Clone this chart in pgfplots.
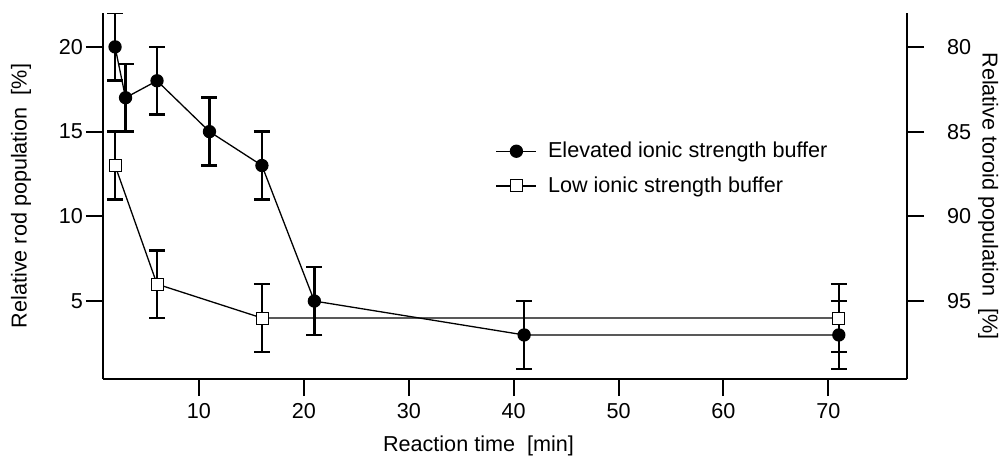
\documentclass[border=0pt]{standalone}
\usepackage{fontspec}
\setmainfont{Liberation Sans}
\usepackage{pgfplots}
\pgfplotsset{compat=1.18}
\usetikzlibrary{calc}
\pgfplotsset{
  common/.style={
    scale only axis, width=402pt, height=183pt,
    xmin=0.85, xmax=77.5, ymin=0.4, ymax=22,
    /pgf/number format/assume math mode=true,
    tick label style={font=\fontsize{10.8}{13}\selectfont},
    label style={font=\fontsize{10.8}{13}\selectfont},
  },
  lines/.style={
    axis line style={line width=1pt, -},
    x axis line style={-}, y axis line style={-},
    tick align=outside, major tick length=8.5pt,
    tick style={line width=1pt, black},
  },
  ebar/.style={error bars/.cd, y dir=both, y explicit,
    error bar style={line width=1.3pt},
    error mark options={rotate=90, line width=1.3pt, mark size=4pt}},
}
\begin{document}
\begin{tikzpicture}
\begin{axis}[common,
  axis x line*=bottom, axis y line*=left,
  lines,
  xtick={10,20,30,40,50,60,70}, ytick={5,10,15,20},
  yticklabel style={xshift=2pt},
  xlabel={Reaction time\ \ [min]},
  ylabel={Relative rod population\ \ [\%]},
  xlabel style={at={(axis description cs:0.467,-0.183)}, anchor=center},
  ylabel style={at={(axis description cs:-0.102,0.5)}, anchor=center},
  legend style={draw=none, fill=none, at={(0.488,0.575)}, anchor=west,
    inner xsep=0pt, font=\fontsize{10.8}{13}\selectfont, row sep=4pt},
  legend cell align=left,
  legend image code/.code={\draw[mark repeat=2, mark phase=2]
    plot coordinates {(0pt,0pt) (10pt,0pt) (20pt,0pt)};
    \path (23.5pt,0pt);},
]
\addplot[black, line width=0.65pt, mark=*, mark size=3pt,
  mark options={solid, fill=black}, ebar] coordinates {
  (2,20) +- (0,2)
  (3,17) +- (0,2)
  (6,18) +- (0,2)
  (11,15) +- (0,2)
  (16,13) +- (0,2)
  (21,5) +- (0,2)
  (41,3) +- (0,2)
  (71,3) +- (0,2)
};
\addplot[black, line width=0.65pt, mark=square*, mark size=3pt,
  mark options={solid, fill=white, line width=0.4pt}, ebar] coordinates {
  (2,13) +- (0,2)
  (6,6) +- (0,2)
  (16,4) +- (0,2)
  (71,4) +- (0,2)
};
\legend{Elevated ionic strength buffer, Low ionic strength buffer}
\coordinate (ll) at (rel axis cs:0,0);
\coordinate (ur) at (rel axis cs:1,1);
\end{axis}
% right axis: toroid population = 100 - rod population
\begin{axis}[common,
  hide x axis, axis y line*=right,
  lines,
  ytick pos=right, yticklabel pos=right,
  ytick={5,10,15,20}, yticklabels={95,90,85,80},
  yticklabel style={xshift=8pt},
  ylabel={Relative toroid population\ \ [\%]},
  ylabel style={at={(axis description cs:1.101,0.5)}, anchor=center, rotate=180},
]
\end{axis}
\pgfresetboundingbox
\path ($(ll)+(-51.5pt,-38pt)$) rectangle ($(ur)+(46.5pt,6.5pt)$);
\end{tikzpicture}
\end{document}
